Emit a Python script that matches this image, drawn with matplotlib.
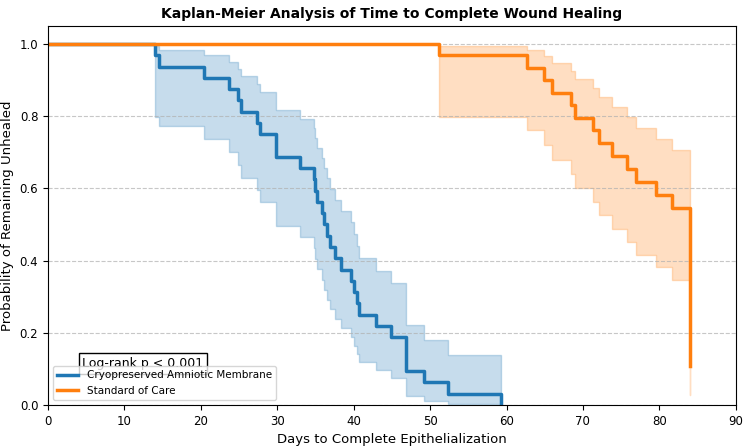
import numpy as np
import matplotlib
matplotlib.use("Agg")
import matplotlib.pyplot as plt

# Days to complete healing
amnio_days = [14.0, 14.5, 20.4, 23.7, 24.9, 25.2, 27.4, 27.8, 29.8, 29.8,
              33.0, 34.8, 35.0, 35.15, 35.8, 36.1, 36.5, 36.85, 37.5, 38.4,
              39.7, 40.0, 40.5, 40.7, 42.9, 44.9, 46.9, 46.9, 46.9, 49.2,
              52.3, 59.3]
amnio_healed = [1] * 32

soc_days = [51.2, 56.0, 58.0, 60.0, 62.7, 64.9, 66.0, 68.5, 68.9, 71.3,
            72.1, 73.0, 73.8, 75.8, 77.0, 79.6, 81.6] + [84.0] * 15
soc_healed = [1, 0, 0, 0, 1, 1, 1, 1, 1, 1,
              1, 0, 1, 1, 1, 1, 1] + [1] * 12 + [0] * 3

group_names = ["Cryopreserved Amniotic Membrane", "Standard of Care"]
group_colors = ["#1f77b4", "#ff7f0e"]


def kaplan_meier(durations, observed):
    d = np.asarray(durations, dtype=float)
    e = np.asarray(observed, dtype=bool)
    times = np.unique(np.concatenate([[0.0], d]))
    at_risk = np.array([(d >= t).sum() for t in times], dtype=float)
    deaths = np.array([((d == t) & e).sum() for t in times], dtype=float)
    surv = np.cumprod(1 - deaths / at_risk)

    # exponential Greenwood interval (same as lifelines)
    with np.errstate(divide="ignore", invalid="ignore"):
        var = deaths / (at_risk * (at_risk - deaths))
        var[~np.isfinite(var)] = 0
        cum = np.cumsum(var)
        v = np.log(surv)
        err = 1.96 * np.sqrt(cum) / v
        a = np.exp(-np.exp(np.log(-v) - err))
        b = np.exp(-np.exp(np.log(-v) + err))
    a = np.nan_to_num(a, nan=1.0)
    b = np.nan_to_num(b, nan=1.0)
    return times, surv, np.minimum(a, b), np.maximum(a, b)


def main():
    fig = plt.figure(figsize=(7.5, 4.47), dpi=100)
    ax = fig.add_axes([0.064, 0.094, 0.917, 0.848])

    groups = [(amnio_days, amnio_healed), (soc_days, soc_healed)]
    for (days, healed), name, color in zip(groups, group_names, group_colors):
        t, s, lo, hi = kaplan_meier(days, healed)
        ax.fill_between(t, lo, hi, step="post", color=color, alpha=0.25, linewidth=1.0)
        ax.plot(t, s, drawstyle="steps-post", color=color, linewidth=2.5, label=name)

    ax.set_xlim(0, 90)
    ax.set_ylim(0, 1.05)
    ax.set_yticks([0.0, 0.2, 0.4, 0.6, 0.8, 1.0])
    ax.grid(axis="y", linestyle="--", alpha=0.7)
    ax.tick_params(labelsize=8.5)

    ax.set_title("Kaplan-Meier Analysis of Time to Complete Wound Healing",
                 fontsize=10, fontweight="bold")
    ax.set_xlabel("Days to Complete Epithelialization", fontsize=9.5)
    ax.set_ylabel("Probability of Remaining Unhealed", fontsize=9.5)

    ax.text(0.05, 0.1, "Log-rank p < 0.001", transform=ax.transAxes, fontsize=9,
            bbox=dict(boxstyle="square", facecolor="white", edgecolor="black"))
    ax.legend(loc="lower left", fontsize=7.5)

    fig.savefig("out.png", dpi=100)


if __name__ == "__main__":
    main()
